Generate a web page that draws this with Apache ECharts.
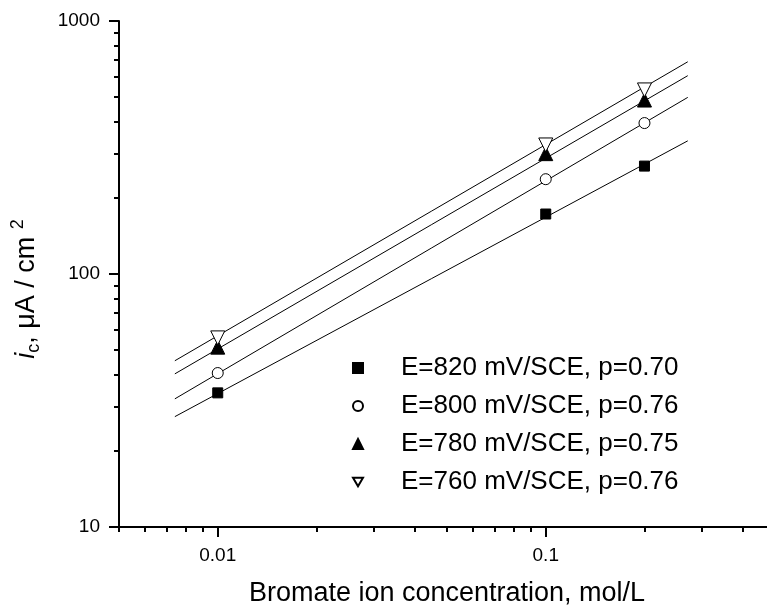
<!DOCTYPE html>
<html>
<head>
<meta charset="utf-8">
<script src="https://cdn.jsdelivr.net/npm/echarts@6/dist/echarts.min.js"></script>
<style>
  html, body { margin: 0; padding: 0; background: #fff; }
  #chart { width: 767px; height: 606px; }
</style>
</head>
<body>
<div id="chart"></div>
<script>
// bromate concentration (mol/L) and measured current density (uA/cm2)
var conc = [0.01, 0.1, 0.2];
var i820 = [33.9, 172.6, 267];
var i800 = [40.6, 237, 395];
var i780 = [51.4, 299, 487];
var i760 = [55.9, 323.6, 534];

// fitted lines, end points
var fitX = [0.0074, 0.271];
var fit820 = [27.3, 336];
var fit800 = [32.1, 499];
var fit780 = [40.3, 608];
var fit760 = [45.4, 690];

var names = ['E=820 mV/SCE, p=0.70', 'E=800 mV/SCE, p=0.76', 'E=780 mV/SCE, p=0.75', 'E=760 mV/SCE, p=0.76'];

var xMajor = [0.01, 0.1];
var xMinor = [0.005, 0.006, 0.007, 0.008, 0.009, 0.02, 0.03, 0.04, 0.05, 0.06, 0.07, 0.08, 0.09, 0.2, 0.3, 0.4, 0.5];
var yMajor = [10, 100, 1000];
var yMinor = [20, 30, 40, 50, 60, 70, 80, 90, 200, 300, 400, 500, 600, 700, 800, 900];

var font = '"Liberation Sans", Arial, sans-serif';

function pairs(xs, ys) {
    return xs.map(function(x, k) { return [x, ys[k]]; });
}

(function() {
    var myChart = echarts.init(document.getElementById('chart'));

    var baseX = {
        type: 'log', logBase: 10, min: 0.005, max: 0.5,
        position: 'bottom',
        splitLine: {show: false}
    };
    var baseY = {
        type: 'log', logBase: 10, min: 10, max: 1000,
        position: 'left',
        splitLine: {show: false}
    };

    // down triangle for the legend (symbolRotate is not passed on there)
    var downTri = 'path://M0,0L2,0L1,1.732Z';
    var pointStyle = [
        {symbol: 'rect', size: 10, rotate: 0, fill: '#000', icon: 'rect'},
        {symbol: 'circle', size: 11, rotate: 0, fill: '#fff', icon: 'circle'},
        {symbol: 'triangle', size: 14, rotate: 0, fill: '#000', icon: 'triangle'},
        {symbol: 'triangle', size: 14, rotate: 180, fill: '#fff', icon: downTri}
    ];
    var values = [i820, i800, i780, i760];
    var fits = [fit820, fit800, fit780, fit760];

    var series = [];
    fits.forEach(function(f, k) {
        series.push({
            name: 'fit' + k,
            type: 'line',
            data: pairs(fitX, f),
            showSymbol: false,
            symbol: 'none',
            silent: true,
            lineStyle: {color: '#000', width: 1},
            z: 2
        });
    });
    values.forEach(function(v, k) {
        var s = pointStyle[k];
        series.push({
            name: names[k],
            type: 'scatter',
            data: pairs(conc, v),
            symbol: s.symbol,
            symbolSize: s.size,
            symbolRotate: s.rotate,
            itemStyle: {color: s.fill, borderColor: '#000', borderWidth: 1, opacity: 1},
            z: 5
        });
    });

    var option = {
        animation: false,
        backgroundColor: '#fff',
        textStyle: {fontFamily: font},
        grid: {left: 119, right: -8, top: 21, bottom: 79, containLabel: false, outerBoundsMode: 'none'},
        legend: {
            data: names.map(function(n, k) { return {name: n, icon: pointStyle[k].icon}; }),
            orient: 'vertical',
            left: 347,
            top: 350,
            itemWidth: 10,
            itemHeight: 10,
            itemGap: 12,
            textStyle: {color: '#000', fontSize: 26, fontFamily: font, padding: [0, 0, 0, 33]},
            selectedMode: false
        },
        xAxis: [
            Object.assign({}, baseX, {
                name: 'Bromate ion concentration, mol/L',
                nameLocation: 'middle',
                nameGap: 53,
                nameTextStyle: {color: '#000', fontSize: 27, fontFamily: font},
                axisLine: {show: true, lineStyle: {color: '#000', width: 2}},
                axisTick: {show: true, inside: false, length: 10, lineStyle: {color: '#000', width: 2}, customValues: xMajor},
                axisLabel: {show: true, color: '#000', fontSize: 19, margin: 19, fontFamily: font, customValues: xMajor,
                    formatter: function(v) { return String(v); }}
            }),
            Object.assign({}, baseX, {
                axisLine: {show: false},
                axisTick: {show: true, inside: false, length: 5, lineStyle: {color: '#000', width: 2}, customValues: xMinor},
                axisLabel: {show: false}
            })
        ],
        yAxis: [
            Object.assign({}, baseY, {
                name: '{i|i}{sub|c}{t|, μA / cm }{sup|2}',
                nameLocation: 'middle',
                nameGap: 64,
                nameTextStyle: {
                    color: '#000', fontFamily: font, padding: [0, 30, 0, 0],
                    rich: {
                        i: {fontSize: 27, fontStyle: 'italic', color: '#000', fontFamily: font, lineHeight: 40, verticalAlign: 'middle'},
                        sub: {fontSize: 18, color: '#000', fontFamily: font, lineHeight: 40, verticalAlign: 'bottom', padding: [0, 0, 4, 0]},
                        t: {fontSize: 27, color: '#000', fontFamily: font, lineHeight: 40, verticalAlign: 'middle'},
                        sup: {fontSize: 18, color: '#000', fontFamily: font, lineHeight: 40, verticalAlign: 'top', padding: [2, 0, 0, 0]}
                    }
                },
                axisLine: {show: true, lineStyle: {color: '#000', width: 2}},
                axisTick: {show: true, inside: false, length: 10, lineStyle: {color: '#000', width: 2}, customValues: yMajor},
                axisLabel: {show: true, color: '#000', fontSize: 19, margin: 19, fontFamily: font, customValues: yMajor,
                    formatter: function(v) { return String(v); }}
            }),
            Object.assign({}, baseY, {
                axisLine: {show: false},
                axisTick: {show: true, inside: false, length: 5, lineStyle: {color: '#000', width: 2}, customValues: yMinor},
                axisLabel: {show: false}
            })
        ],
        series: series
    };

    myChart.setOption(option);
    window.addEventListener('resize', function() {
        myChart.resize();
    });
})();
</script>
</body>
</html>
